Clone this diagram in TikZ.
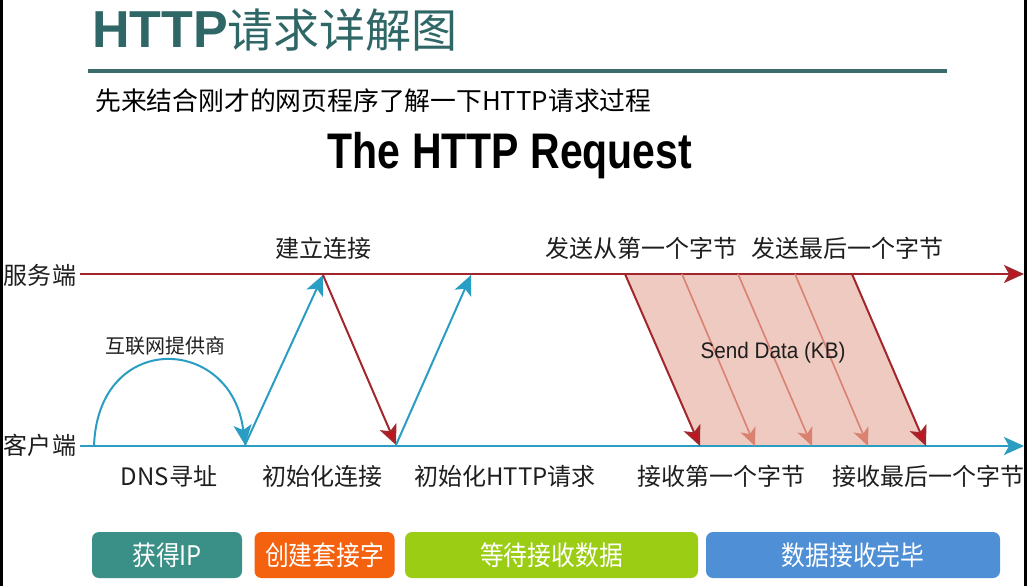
\documentclass[tikz,border=0pt]{standalone}
\usepackage{fontspec}
\usepackage{graphicx}
\setmainfont{Liberation Sans}
\newfontfamily\cjk{Noto Sans CJK SC}
\usetikzlibrary{arrows.meta}
\definecolor{titlec}{HTML}{2F6666}
\definecolor{rulec}{HTML}{3B6B6B}
\definecolor{srvc}{HTML}{A3262D}
\definecolor{srvarr}{HTML}{C8101E}
\definecolor{clic}{HTML}{2A9DC3}
\definecolor{datafill}{HTML}{EFCAC0}
\definecolor{datamid}{HTML}{D98272}
\definecolor{boxa}{HTML}{3A8F86}
\definecolor{boxb}{HTML}{F5620F}
\definecolor{boxc}{HTML}{9BCD14}
\definecolor{boxd}{HTML}{4F8FD6}
\definecolor{txt}{HTML}{1E1E1E}
\tikzset{
  lab/.style={font=\fontsize{24}{24}\selectfont\cjk, text=txt, inner sep=0},
  smalllab/.style={font=\fontsize{20}{20}\selectfont\cjk, text=txt, inner sep=0},
  tip/.style={-{Stealth[length=20pt,width=18pt,inset=5pt]}},
  srvline/.style={draw=srvc, line width=2.2pt, -{Stealth[length=20pt,width=18pt,inset=5pt,fill=srvarr]}},
  cliline/.style={draw=clic, line width=2.2pt, tip},
  bluearr/.style={draw=clic, line width=2pt, tip},
  redarr/.style={draw=srvc, line width=2pt, -{Stealth[length=20pt,width=18pt,inset=5pt,fill=srvarr]}},
  midarr/.style={draw=datamid, line width=1.6pt, -{Stealth[length=18pt,width=16pt,inset=5pt]}},
  stagebox/.style={rounded corners=7pt, text=white, minimum height=46pt, inner sep=0,
    font=\fontsize{27}{27}\selectfont\cjk},
}
\begin{document}
\begin{tikzpicture}[x=1pt,y=-1pt]
\useasboundingbox (0,0) rectangle (1027,586);
\fill[black] (0,0) rectangle (3,586);
\fill[black] (1024,0) rectangle (1027,586);

% title
\node[anchor=base west, inner sep=0, text=titlec] (title) at (92,48)
  {{\fontsize{52}{52}\selectfont\rmfamily\bfseries HTTP}{\fontsize{46}{46}\selectfont\cjk 请求详解图}};
\coordinate (r0) at (88,71);
\coordinate (r1) at (947,71);
\draw[rulec, line width=4pt] (r0) -- (r1);
\node[anchor=base west, inner sep=0, text=black] (sub) at (95,110)
  {\fontsize{25.8}{26}\selectfont\cjk 先来结合刚才的网页程序了解一下HTTP请求过程};
\node[anchor=base, inner sep=0, text=black] (head) at (510,168)
  {\scalebox{0.82}[1]{\fontsize{50}{50}\selectfont\rmfamily\bfseries The HTTP Request}};

% axes
\node[lab] (srv) at (40,275) {服务端};
\node[lab] (cli) at (40,445) {客户端};
\coordinate (s0) at (80,274);
\coordinate (s1) at (1024,274);
\coordinate (c0) at (80,446);
\coordinate (c1) at (1024,446);

% data block
\coordinate (d0t) at (625,274); \coordinate (d0b) at (700,446);
\coordinate (d1t) at (682,274); \coordinate (d1b) at (755,446);
\coordinate (d2t) at (738,274); \coordinate (d2b) at (812,446);
\coordinate (d3t) at (795,274); \coordinate (d3b) at (868,446);
\coordinate (d4t) at (852,274); \coordinate (d4b) at (926,446);
\fill[datafill] (d0t) -- (d4t) -- (d4b) -- (d0b) -- cycle;

\draw[srvline] (s0) -- (s1);
\draw[cliline] (c0) -- (c1);

% DNS arc
\coordinate (a0) at (94,446);
\coordinate (a1) at (245,445);
\draw[bluearr] (a0) .. controls (98,330) and (232,335) .. (a1);
\node[smalllab] (isp) at (165,346) {互联网提供商};

% handshake
\coordinate (h1) at (323,275);
\coordinate (h2) at (396,445);
\coordinate (h3) at (471,275);
\draw[bluearr] (a1) -- (h1);
\draw[redarr] (h1) -- (h2);
\draw[bluearr] (h2) -- (h3);

% data arrows
\draw[redarr] (d0t) -- (d0b);
\draw[midarr] (d1t) -- (d1b);
\draw[midarr] (d2t) -- (d2b);
\draw[midarr] (d3t) -- (d3b);
\draw[redarr] (d4t) -- (d4b);
\node[inner sep=0, text=txt] (sd) at (773,353)
  {\scalebox{0.92}[1]{\fontsize{22.5}{23}\selectfont\rmfamily Send Data (KB)}};

% top labels
\node[lab] (conn) at (323,248) {建立连接};
\node[lab] (first) at (641,248) {发送从第一个字节};
\node[lab] (last) at (847,248) {发送最后一个字节};

% bottom labels
\node[lab] (dns) at (169,476) {DNS寻址};
\node[lab] (init) at (322,476) {初始化连接};
\node[lab] (http) at (505,476) {初始化HTTP请求};
\node[lab] (rfirst) at (721,476) {接收第一个字节};
\node[lab] (rlast) at (928,476) {接收最后一个字节};

% stage boxes
\node[stagebox, fill=boxa, minimum width=150pt] (b1) at (167,555) {\scalebox{0.88}[1]{获得IP}};
\node[stagebox, fill=boxb, minimum width=140pt] (b2) at (324.5,555) {\scalebox{0.88}[1]{创建套接字}};
\node[stagebox, fill=boxc, minimum width=293pt] (b3) at (551.5,555) {\scalebox{0.88}[1]{等待接收数据}};
\node[stagebox, fill=boxd, minimum width=294pt] (b4) at (853,555) {\scalebox{0.88}[1]{数据接收完毕}};
\end{tikzpicture}
\end{document}
